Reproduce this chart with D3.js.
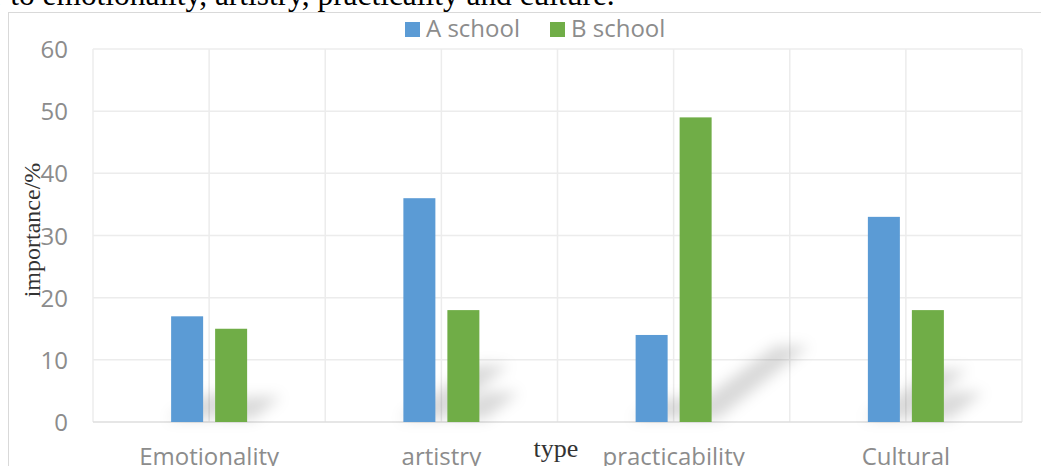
<!DOCTYPE html>
<html>
<head>
<meta charset="utf-8">
<script src="https://cdn.jsdelivr.net/npm/d3@7/dist/d3.min.js"></script>
<style>
  html, body { margin: 0; padding: 0; background: #fff; overflow: hidden; }
  svg { display: block; }
</style>
</head>
<body>
<svg id="chart" width="1041" height="466"></svg>
<script>
// Chart data
const categories = ["Emotionality", "artistry", "practicability", "Cultural"];
const seriesNames = ["A school", "B school"];
const aSchool = [17, 36, 14, 33];
const bSchool = [15, 18, 49, 18];
const yTicks = [0, 10, 20, 30, 40, 50, 60];
const captionText = "r to emotionality, artistry, practicality and culture.";
const yTitle = "importance/%";
const xTitle = "type";

const colors = { "A school": "#5b9bd5", "B school": "#70ad47" };
const labelColor = "#8c8c8c";
const gridColor = "#ececec";
const sansFont = "'Open Sans', 'Noto Sans', sans-serif";
const serifFont = "'Liberation Serif', 'Times New Roman', serif";

const rows = categories.map((c, i) => ({ category: c, values: [
  { series: seriesNames[0], value: aSchool[i] },
  { series: seriesNames[1], value: bSchool[i] }
]}));

const svg = d3.select("#chart");
const plot = { left: 93, right: 1022, top: 49, bottom: 422 };

const x = d3.scaleBand().domain(categories).range([plot.left, plot.right]).paddingInner(0).paddingOuter(0);
const xs = d3.scaleBand().domain(seriesNames).range([-38, 38]).paddingInner(12 / 44).paddingOuter(0);
const y = d3.scaleLinear().domain([0, 60]).range([plot.bottom, plot.top]);

// Shadow blur filter
const defs = svg.append("defs");
const f = defs.append("filter").attr("id", "shadowBlur")
  .attr("x", "-50%").attr("y", "-50%").attr("width", "200%").attr("height", "200%");
f.append("feGaussianBlur").attr("stdDeviation", 7);

// Caption text cut at top
svg.append("text")
  .attr("x", -8).attr("y", 4.5)
  .attr("font-family", serifFont).attr("font-size", 31.4)
  .attr("fill", "#000")
  .text(captionText);

// Outer chart frame
svg.append("rect")
  .attr("x", 8.5).attr("y", 12.5).attr("width", 1060).attr("height", 480)
  .attr("fill", "none").attr("stroke", "#d9d9d9").attr("stroke-width", 1);

// Horizontal gridlines
svg.append("g").selectAll("line").data(yTicks.filter(t => t > 0)).join("line")
  .attr("x1", plot.left).attr("x2", plot.right)
  .attr("y1", d => y(d)).attr("y2", d => y(d))
  .attr("stroke", gridColor).attr("stroke-width", 1.5);

// Vertical gridlines at band edges and centres
const vLines = [];
categories.forEach(c => { vLines.push(x(c)); vLines.push(x(c) + x.bandwidth() / 2); });
vLines.push(plot.right);
svg.append("g").selectAll("line").data(vLines).join("line")
  .attr("x1", d => d).attr("x2", d => d)
  .attr("y1", plot.top).attr("y2", plot.bottom)
  .attr("stroke", gridColor).attr("stroke-width", 1.5);

// Baseline axis
svg.append("line")
  .attr("x1", plot.left).attr("x2", plot.right)
  .attr("y1", y(0)).attr("y2", y(0))
  .attr("stroke", "#dedede").attr("stroke-width", 1.5);

// Perspective shadows behind bars
const shadowG = svg.append("g").attr("filter", "url(#shadowBlur)");
rows.forEach(r => {
  r.values.forEach(v => {
    const x0 = x(r.category) + x.bandwidth() / 2 + xs(v.series);
    const x1 = x0 + xs.bandwidth();
    const h = y(0) - y(v.value);
    const dx = 0.3 * h, dy = -0.24 * h;
    const b = y(0) - 3;
    shadowG.append("path")
      .attr("d", `M${x0 - 4},${b} L${x1 + 6},${b} L${x1 + dx + 6},${b + dy} L${x0 + dx + 4},${b + dy} Z`)
      .attr("fill", "#000").attr("opacity", 0.15);
  });
});

// Bars
svg.append("g").selectAll("g").data(rows).join("g")
  .attr("transform", d => `translate(${x(d.category) + x.bandwidth() / 2},0)`)
  .selectAll("rect").data(d => d.values).join("rect")
  .attr("x", d => xs(d.series))
  .attr("width", xs.bandwidth())
  .attr("y", d => y(d.value))
  .attr("height", d => y(0) - y(d.value))
  .attr("fill", d => colors[d.series]);

// Y axis tick labels
const yAxis = d3.axisLeft(y).tickValues(yTicks).tickSize(0).tickPadding(0);
const yg = svg.append("g").attr("transform", "translate(68,0)").call(yAxis);
yg.select(".domain").remove();
yg.selectAll("text")
  .attr("font-family", sansFont).attr("font-size", 24)
  .attr("fill", labelColor).attr("dy", "0.36em");

// X axis category labels
const xAxis = d3.axisBottom(x).tickSize(0).tickPadding(0);
const xg = svg.append("g").attr("transform", "translate(0,465)").call(xAxis);
xg.select(".domain").remove();
xg.selectAll("text")
  .attr("font-family", sansFont).attr("font-size", 24)
  .attr("fill", labelColor).attr("dy", 0).attr("y", 0);

// Axis titles
svg.append("text")
  .attr("transform", "translate(40,230) rotate(-90)")
  .attr("text-anchor", "middle")
  .attr("font-family", serifFont).attr("font-size", 24)
  .attr("fill", "#333")
  .text(yTitle);

svg.append("text")
  .attr("x", 556).attr("y", 457)
  .attr("text-anchor", "middle")
  .attr("font-family", serifFont).attr("font-size", 26)
  .attr("fill", "#333")
  .text(xTitle);

// Legend
const legend = svg.append("g");
const legendX = [405, 550];
seriesNames.forEach((s, i) => {
  legend.append("rect")
    .attr("x", legendX[i]).attr("y", 22).attr("width", 15).attr("height", 15)
    .attr("fill", colors[s]);
  legend.append("text")
    .attr("x", legendX[i] + 21).attr("y", 37)
    .attr("font-family", sansFont).attr("font-size", 24)
    .attr("fill", labelColor)
    .text(s);
});
</script>
</body>
</html>
